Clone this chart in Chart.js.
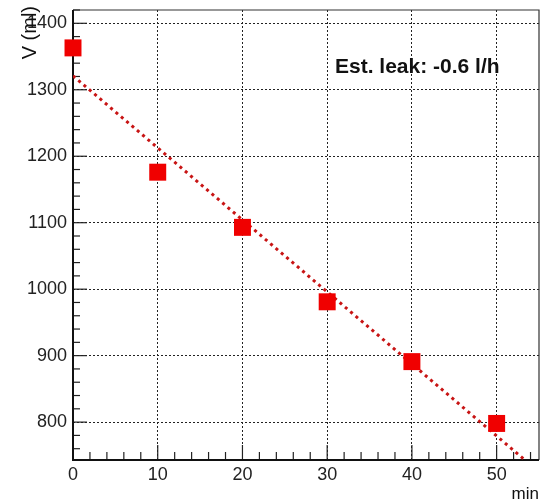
<!DOCTYPE html>
<html><head><meta charset="utf-8">
<script src="https://cdn.jsdelivr.net/npm/chart.js@4/dist/chart.umd.min.js"></script>
<style>html,body{margin:0;padding:0;background:#fff}#wrap{width:549px;height:501px;position:relative}</style>
</head><body><div id="wrap"><canvas id="c" width="549" height="501"></canvas></div>
<script>
const minutes = [0, 10, 20, 30, 40, 50];
const volume = [1363, 1176, 1093, 981, 891, 798];
const fitMinutes = [0, 55];
const fitVolume = [1321, 725];
const xTicks = [0, 10, 20, 30, 40, 50];
const yTicks = [800, 900, 1000, 1100, 1200, 1300, 1400];
const xTitle = 'min';
const yTitle = 'V (ml)';
const note = 'Est. leak: -0.6 l/h';

const FONT = '"Liberation Sans", Arial, Helvetica, sans-serif';

const frame = {
  id: 'frame',
  beforeDatasetsDraw(chart) {
    const {ctx, chartArea: a, scales: {x, y}} = chart;
    ctx.save();
    ctx.strokeStyle = '#222';
    ctx.lineWidth = 1.2;
    for (let v = 0; v <= 55; v += 2) {
      const px = x.getPixelForValue(v);
      if (px < a.left || px > a.right) continue;
      const major = v % 10 === 0;
      ctx.beginPath(); ctx.moveTo(px, a.bottom); ctx.lineTo(px, a.bottom - (major ? 15 : 8)); ctx.stroke();
    }
    for (let v = 760; v <= 1420; v += 20) {
      const py = y.getPixelForValue(v);
      if (py < a.top || py > a.bottom) continue;
      const major = v % 100 === 0;
      ctx.beginPath(); ctx.moveTo(a.left, py); ctx.lineTo(a.left + (major ? 14 : 7), py); ctx.stroke();
    }
    ctx.lineWidth = 1.2;
    ctx.strokeStyle = '#333';
    ctx.beginPath(); ctx.moveTo(a.left, a.top); ctx.lineTo(a.right, a.top); ctx.lineTo(a.right, a.bottom); ctx.stroke();
    ctx.lineWidth = 2;
    ctx.strokeStyle = '#111';
    ctx.beginPath(); ctx.moveTo(a.left, a.top); ctx.lineTo(a.left, a.bottom); ctx.lineTo(a.right, a.bottom); ctx.stroke();
    ctx.restore();
  },
  afterDraw(chart) {
    const {ctx} = chart;
    ctx.save();
    ctx.fillStyle = '#111';
    ctx.font = 'bold 21px ' + FONT;
    ctx.textBaseline = 'alphabetic';
    ctx.textAlign = 'left';
    ctx.fillText(note, 335, 73);
    ctx.font = '17px ' + FONT;
    ctx.textAlign = 'right';
    ctx.fillText(xTitle, 539, 499);
    ctx.translate(30, 6);
    ctx.rotate(-Math.PI / 2);
    ctx.font = '20px ' + FONT;
    ctx.textAlign = 'right';
    ctx.textBaseline = 'middle';
    ctx.fillText(yTitle, 0, 0);
    ctx.restore();
  }
};

const noPad = s => { s.paddingTop = 0; s.paddingBottom = 0; s.paddingLeft = 0; s.paddingRight = 0; };

new Chart(document.getElementById('c'), {
  type: 'scatter',
  data: {
    datasets: [
      {
        type: 'line',
        data: fitMinutes.map((m, i) => ({x: m, y: fitVolume[i]})),
        borderColor: '#c81414',
        borderWidth: 3,
        borderDash: [3, 4],
        pointRadius: 0,
        fill: false,
        order: 2
      },
      {
        data: minutes.map((m, i) => ({x: m, y: volume[i]})),
        pointStyle: 'rect',
        pointRadius: 12,
        backgroundColor: '#f00000',
        borderWidth: 0,
        clip: false,
        order: 1
      }
    ]
  },
  options: {
    responsive: false,
    animation: false,
    layout: {autoPadding: false, padding: {top: 10, right: 10, left: 0, bottom: 0}},
    plugins: {legend: {display: false}, tooltip: {enabled: false}},
    scales: {
      x: {
        type: 'linear', min: 0, max: 55,
        afterBuildTicks: s => { s.ticks = xTicks.map(v => ({value: v})); },
        afterFit: s => { s.height = 41; noPad(s); },
        grid: {color: '#222', lineWidth: 1, drawTicks: false},
        border: {display: false, dash: [2, 2]},
        ticks: {color: '#222', font: {family: FONT, size: 18}, padding: 4, maxRotation: 0, callback: v => String(v)}
      },
      y: {
        type: 'linear', min: 743, max: 1420,
        afterBuildTicks: s => { s.ticks = yTicks.map(v => ({value: v})); },
        afterFit: s => { s.width = 73; noPad(s); },
        grid: {color: '#222', lineWidth: 1, drawTicks: false},
        border: {display: false, dash: [2, 2]},
        ticks: {color: '#222', font: {family: FONT, size: 18}, padding: 6, callback: v => String(v)}
      }
    }
  },
  plugins: [frame]
});
</script></body></html>
